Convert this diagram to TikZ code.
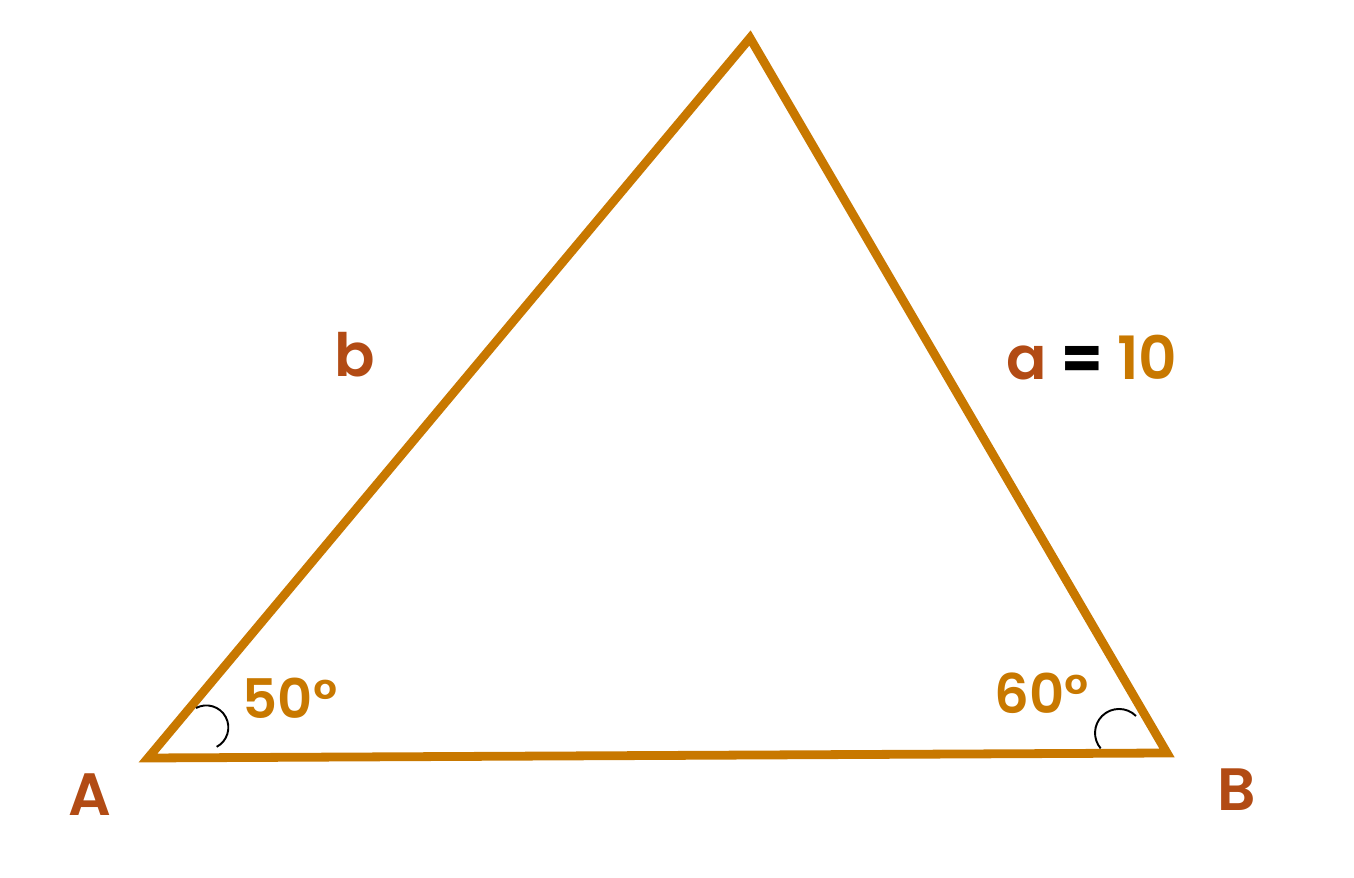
\documentclass[tikz,border=0pt]{standalone}
\usepackage{fontspec}
\setmainfont{Poppins}[UprightFont={* SemiBold}, BoldFont={* Bold}]
\usepackage{xcolor}
\usetikzlibrary{positioning}
\definecolor{ochre}{RGB}{200,120,0}
\definecolor{rust}{RGB}{178,75,20}

\begin{document}
\begin{tikzpicture}[
    side/.style={draw=ochre, line width=5pt},
    anglemark/.style={draw=black, line width=1.1pt},
    vertex/.style={text=rust, font=\fontsize{34}{40}\selectfont},
    anglelabel/.style={text=ochre, font=\fontsize{31}{36}\selectfont}
]
\useasboundingbox (0,0) rectangle (27.08,17.56);

\coordinate (A) at (2.96,2.40);
\coordinate (B) at (23.34,2.50);
\coordinate (C) at (15.00,16.80);

\draw [side] (A) -- (B) -- (C) -- cycle;

\draw [anglemark] (3.92,3.40) arc [start angle=118, end angle=-62, radius=0.44cm];
\draw [anglemark] (22.72,3.24) arc [start angle=45, end angle=220, radius=0.48cm];

\node [vertex] (labA) at (1.80,1.66) {A};
\node [vertex] (labB) at (24.74,1.76) {B};
\node [vertex] (sideb) at (7.10,10.46) {b};
\node [vertex] (sidea) at (21.84,10.40) {a \textcolor{black}{\bfseries =} \textcolor{ochre}{10}};

\node [anglelabel] (angA) at (5.80,3.60) {50°};
\node [anglelabel] (angB) at (20.84,3.70) {60°};

\end{tikzpicture}
\end{document}
